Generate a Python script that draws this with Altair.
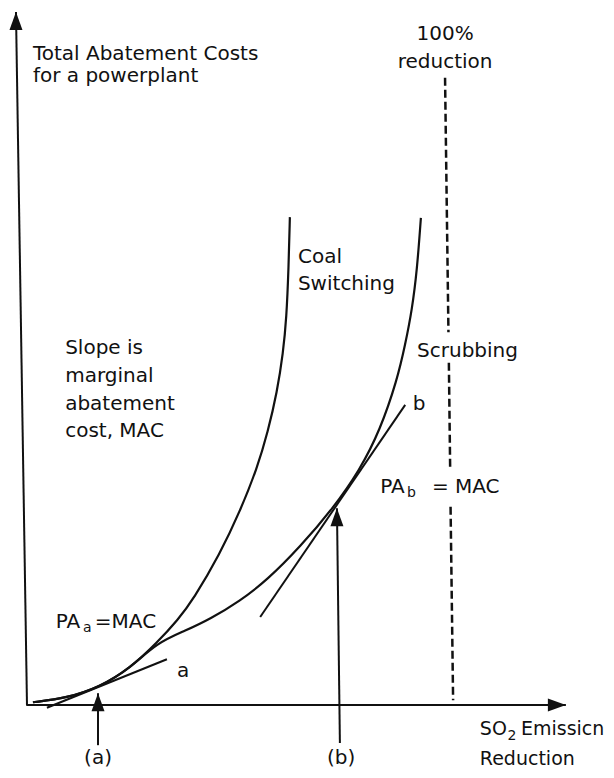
import altair as alt
import pandas as pd

# ---- values (x: % SO2 reduction, y: cost, arbitrary units) ----
# both cost curves coincide at low reductions
common_x = [1.4, 9.4, 17.2, 24.3, 30.7]
common_y = [0.4, 1.0, 2.6, 5.3, 9.0]
coal_x = [35.6, 39.2, 45.5, 50.2, 54.3, 56.8, 59.0, 60.4, 61.2, 61.7, 62.0]
coal_y = [12.3, 15.2, 21.8, 27.9, 34.2, 39.4, 45.2, 50.8, 55.8, 63.1, 70.4]
scrub_x = [37.3, 43.2, 50.2, 56.6, 64.4, 72.2, 78.5, 83.3, 87.3, 89.2, 90.8, 92.0, 92.9]
scrub_y = [10.7, 12.4, 15.0, 18.0, 22.8, 28.4, 33.9, 39.7, 46.9, 52.0, 57.0, 62.8, 70.3]

# tangent lines (slope = marginal abatement cost)
tangent_a_x = [4.7, 33.0]
tangent_a_y = [-0.4, 6.6]
tangent_b_x = [55.0, 89.2]
tangent_b_y = [12.7, 43.3]

# axes and pointer arrows
yaxis_x = [0.0, -2.6]
yaxis_y = [-0.1, 100.0]
xaxis_x = [0.0, 127.1]
xaxis_y = [0.0, 0.0]
arrow_a_x = [16.75, 16.75]
arrow_a_y = [-5.8, 1.7]
arrow_b_x = [73.8, 73.1]
arrow_b_y = [-5.5, 28.4]

# 100 % reduction line (broken where labels cross it)
full_seg = ["s1", "s1", "s2", "s2", "s3", "s3"]
full_x = [98.6, 99.4, 99.5, 99.8, 99.9, 100.5]
full_y = [90.5, 53.8, 49.4, 34.3, 28.6, 0.7]

# arrow heads
head_up_x = [-2.6, 16.75, 73.1]
head_up_y = [100.0, 1.7, 28.4]
head_right_x = [127.1]
head_right_y = [0.0]

# labels
left_text = ["Total Abatement Costs", "for a powerplant", "Coal", "Switching", "Scrubbing",
             "Slope is", "marginal", "abatement", "cost, MAC", "b", "PA", "b", "= MAC",
             "PA", "a", "=MAC", "a", "SO", "2", "Emissicn", "Reduction"]
left_x = [1.4, 1.4, 63.9, 63.9, 92.0, 9.0, 9.0, 9.0, 9.0, 91.0, 83.3, 89.6, 95.5,
          6.8, 13.2, 16.0, 35.4, 106.8, 113.3, 116.5, 106.8]
left_y = [93.1, 89.9, 63.8, 59.9, 50.2, 50.7, 46.6, 42.6, 38.7, 42.6, 30.6, 30.0, 30.6,
          11.1, 10.5, 11.1, 4.0, -4.3, -5.0, -4.3, -8.7]
left_size = [20, 20, 20, 20, 20, 20, 20, 20, 20, 20, 20, 14, 20,
             20, 14, 20, 20, 19, 14, 19, 19]
center_text = ["100%", "reduction", "(a)", "(b)"]
center_x = [98.6, 98.6, 16.75, 74.1]
center_y = [96.0, 91.9, -8.5, -8.5]

INK = "#111111"
FONT = "DejaVu Sans"

xs = alt.Scale(domain=[-4.48, 136.56], nice=False, zero=False)
ys = alt.Scale(domain=[-9.38, 100.58], nice=False, zero=False)


def X(f="x"):
    return alt.X(f"{f}:Q", scale=xs, axis=None)


def Y(f="y"):
    return alt.Y(f"{f}:Q", scale=ys, axis=None)


def frame(name, xv, yv):
    return pd.DataFrame({"id": name, "i": range(len(xv)), "x": xv, "y": yv})


curves = pd.concat([
    frame("coal", common_x + coal_x, common_y + coal_y),
    frame("scrub", common_x + scrub_x, common_y + scrub_y),
])
straight = pd.concat([
    frame("ta", tangent_a_x, tangent_a_y),
    frame("tb", tangent_b_x, tangent_b_y),
    frame("yaxis", yaxis_x, yaxis_y),
    frame("xaxis", xaxis_x, xaxis_y),
    frame("arra", arrow_a_x, arrow_a_y),
    frame("arrb", arrow_b_x, arrow_b_y),
])
dashed = pd.DataFrame({"id": full_seg, "i": range(len(full_x)), "x": full_x, "y": full_y})

curve_layer = alt.Chart(curves).mark_line(
    color=INK, strokeWidth=2.2, interpolate="basis"
).encode(x=X(), y=Y(), detail="id:N", order="i:Q")

straight_layer = alt.Chart(straight).mark_line(
    color=INK, strokeWidth=2
).encode(x=X(), y=Y(), detail="id:N", order="i:Q")

dashed_layer = alt.Chart(dashed).mark_line(
    color=INK, strokeWidth=2.5, strokeDash=[8, 4]
).encode(x=X(), y=Y(), detail="id:N", order="i:Q")

up_heads = alt.Chart(pd.DataFrame({"x": head_up_x, "y": head_up_y})).mark_point(
    shape="M0,0L0.65,1.8L-0.65,1.8Z", size=400, filled=True, color=INK, opacity=1,
    strokeWidth=0
).encode(x=X(), y=Y())

right_heads = alt.Chart(pd.DataFrame({"x": head_right_x, "y": head_right_y})).mark_point(
    shape="M0,0L-1.8,-0.65L-1.8,0.65Z", size=400, filled=True, color=INK, opacity=1,
    strokeWidth=0
).encode(x=X(), y=Y())

left_labels = alt.Chart(pd.DataFrame({
    "x": left_x, "y": left_y, "t": left_text, "s": left_size
})).mark_text(
    align="left", baseline="alphabetic", font=FONT, color=INK
).encode(x=X(), y=Y(), text="t:N", size=alt.Size("s:Q", scale=None, legend=None))

center_labels = alt.Chart(pd.DataFrame({
    "x": center_x, "y": center_y, "t": center_text
})).mark_text(
    align="center", baseline="alphabetic", font=FONT, color=INK, fontSize=20
).encode(x=X(), y=Y(), text="t:N")

chart = alt.layer(
    dashed_layer, curve_layer, straight_layer, up_heads, right_heads,
    left_labels, center_labels
).properties(
    width=598, height=762, padding=0,
    autosize=alt.AutoSizeParams(type="none"),
    background="white",
).configure_view(stroke=None)

chart.save("out.html", embed_options={"renderer": "svg", "actions": False})
